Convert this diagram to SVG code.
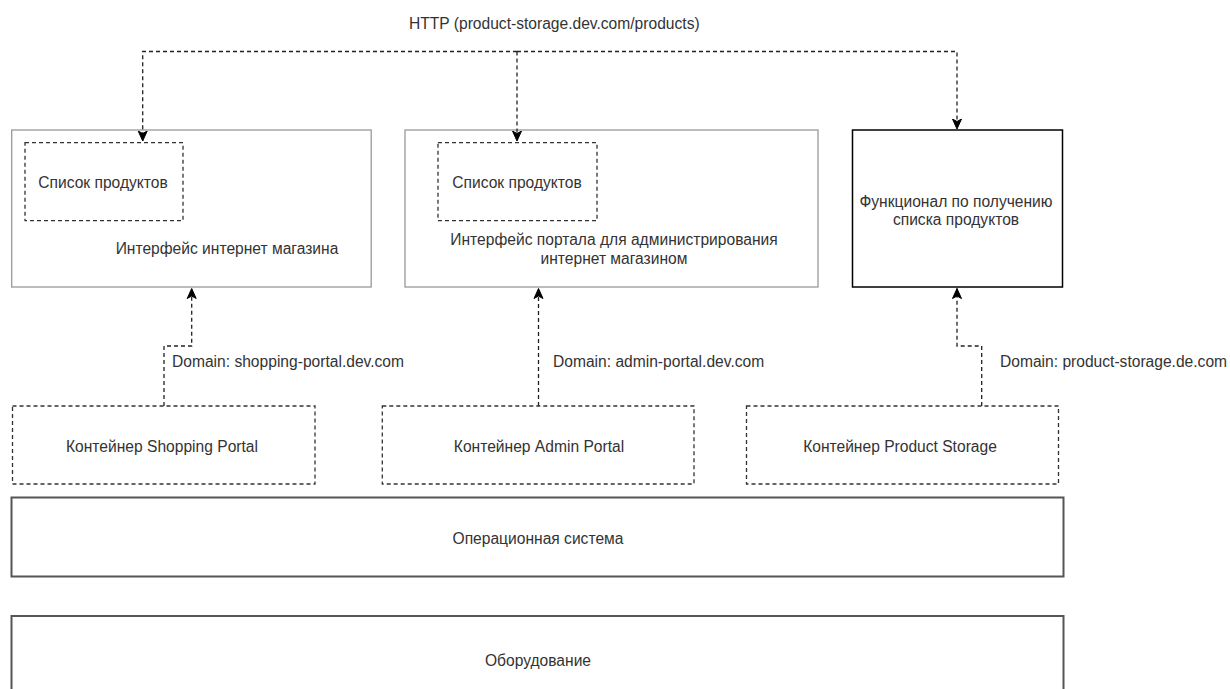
<svg xmlns="http://www.w3.org/2000/svg" width="1230" height="689" viewBox="0 0 1230 689">
<style>
text{font-family:"Liberation Sans",Arial,sans-serif;font-size:15.6px;fill:#333}
.c{text-anchor:middle}
.solid{fill:#fff;stroke:#999;stroke-width:1.3}
.dark{fill:#fff;stroke:#000;stroke-width:1.5}
.layer{fill:#fff;stroke:#555;stroke-width:2}
.dash{fill:#fff;stroke:#333;stroke-width:1.3;stroke-dasharray:4 3}
.conn{fill:none;stroke:#222;stroke-width:1.3;stroke-dasharray:4 3}
</style>
<defs>
<marker id="arr" markerUnits="userSpaceOnUse" markerWidth="12" markerHeight="12" viewBox="0 0 12 12" refX="10" refY="6" orient="auto">
<path d="M0,1.5 L10,6 L0,10.5 L2.5,6 Z" fill="#000" stroke="#000" stroke-width="1"/>
</marker>
</defs>
<rect x="0" y="0" width="1230" height="689" fill="#fff"/>

<g id="shop-ui">
<rect class="solid" x="11.7" y="130" width="359.5" height="157"/>
<text class="c" x="227" y="254">Интерфейс интернет магазина</text>
</g>
<g id="shop-list">
<rect class="dash" x="25" y="142.7" width="158" height="78"/>
<text class="c" x="103" y="188">Список продуктов</text>
</g>

<g id="admin-ui">
<rect class="solid" x="405" y="130" width="413" height="157"/>
<text class="c" x="614" y="245">Интерфейс портала для администрирования</text>
<text class="c" x="614" y="264">интернет магазином</text>
</g>
<g id="admin-list">
<rect class="dash" x="438" y="142.7" width="159" height="78"/>
<text class="c" x="517" y="188">Список продуктов</text>
</g>

<g id="storage-func">
<rect class="dark" x="852.5" y="130" width="210" height="157"/>
<text class="c" x="956" y="206.5">Функционал по получению</text>
<text class="c" x="956" y="224.5">списка продуктов</text>
</g>

<g id="container-shop">
<rect class="dash" x="12.5" y="406" width="302.5" height="78"/>
<text class="c" x="162" y="451.5">Контейнер Shopping Portal</text>
</g>
<g id="container-admin">
<rect class="dash" x="382.3" y="406" width="311.7" height="78"/>
<text class="c" x="539" y="451.5">Контейнер Admin Portal</text>
</g>
<g id="container-storage">
<rect class="dash" x="746.5" y="406" width="312" height="78"/>
<text class="c" x="900" y="451.5">Контейнер Product Storage</text>
</g>

<g id="os">
<rect class="layer" x="11.5" y="497.5" width="1052" height="79"/>
<text class="c" x="538" y="543.5">Операционная система</text>
</g>
<g id="hardware">
<rect class="layer" x="11.5" y="616" width="1052" height="90"/>
<text class="c" x="538" y="665.5">Оборудование</text>
</g>

<g id="connectors">
<path class="conn" d="M517,51.5 H142.7 V141" marker-end="url(#arr)"/>
<path class="conn" d="M517,51.5 V141" marker-end="url(#arr)"/>
<path class="conn" d="M517,51.5 H957 V129" marker-end="url(#arr)"/>
<path class="conn" d="M164,406 V346 H191.7 V288.5" marker-end="url(#arr)"/>
<path class="conn" d="M538.5,406 V288.5" marker-end="url(#arr)"/>
<path class="conn" d="M981.7,406 V346 H957 V288.5" marker-end="url(#arr)"/>
<text x="409" y="29">HTTP (product-storage.dev.com/products)</text>
<text x="172" y="367">Domain: shopping-portal.dev.com</text>
<text x="553" y="367">Domain: admin-portal.dev.com</text>
<text x="1000" y="367">Domain: product-storage.de.com</text>
</g>
</svg>
